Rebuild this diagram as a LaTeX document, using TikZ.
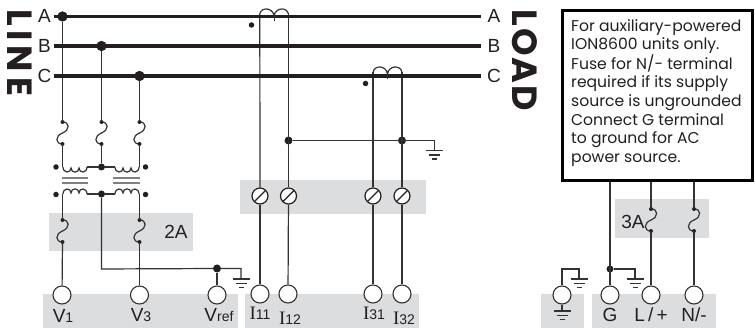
\documentclass[tikz,border=0pt]{standalone}
\usepackage{fontspec}
\setmainfont{Liberation Sans}
\newfontfamily\boxfont{Poppins}
\newfontfamily\heavyfont[LetterSpace=0]{Poppins}
\newfontfamily\iserif{Liberation Serif}
\definecolor{ink}{HTML}{231F20}
\definecolor{band}{HTML}{DCDDDE}
\definecolor{wire}{HTML}{333333}
\tikzset{
  bus/.style={draw=ink,line width=3.8pt},
  wirel/.style={draw=wire,line width=1.2pt},
  bandbox/.style={fill=band,draw=none},
  junction/.style={circle,fill=ink,draw=none,inner sep=0pt,minimum size=9pt},
  tinydot/.style={circle,fill=ink,draw=none,inner sep=0pt,minimum size=5.5pt},
  terminal/.style={circle,draw=wire,fill=white,line width=1.1pt,inner sep=0pt,minimum size=18pt},
  screwt/.style={circle,draw=ink,fill=white,line width=1.2pt,inner sep=0pt,minimum size=16pt,
    path picture={\draw[ink,line width=1.2pt] (path picture bounding box.south west)--(path picture bounding box.north east);}},
  lab/.style={inner sep=0pt,text=ink,font=\fontsize{19}{19}\selectfont},
  pics/fuse/.style={code={
    \draw[wirel] (0,0) .. controls (7.5,0) and (7.5,8) .. (0,11) .. controls (-7.5,14) and (-7.5,22) .. (0,22);
    \fill[ink] (0,0) circle (2pt) (0,22) circle (2pt);
  }},
  pics/coildown/.style={code={
    \draw[wirel] (0,0) .. controls (0,6.5) and (8,6.5) .. (8,1) .. controls (8,6.5) and (16,6.5) .. (16,1) .. controls (16,6.5) and (24,6.5) .. (24,0);
  }},
  pics/coilup/.style={code={
    \draw[wirel] (0,0) .. controls (0,-6.5) and (8,-6.5) .. (8,-1) .. controls (8,-6.5) and (16,-6.5) .. (16,-1) .. controls (16,-6.5) and (24,-6.5) .. (24,0);
  }},
  pics/hump/.style={code={
    \draw[wirel] (0,0) .. controls (1,-7) and (13,-7) .. (14.3,2) .. controls (15.5,-7) and (27.6,-7) .. (28.6,0);
    \draw[wirel] (14.3,0) -- (14.3,7);
  }},
  pics/earth/.style={code={
    \draw[wirel] (-8.5,0) -- (8.5,0);
    \draw[wirel] (-5.5,4.5) -- (5.5,4.5);
    \draw[wirel] (-2.5,8.5) -- (2.5,8.5);
  }},
}
\begin{document}
\begin{tikzpicture}[x=1pt,y=-1pt]
\useasboundingbox (0,0) rectangle (755,328);
% bands
\fill[bandbox] (49,213) rectangle (193,251);
\fill[bandbox] (43,294) rectangle (238,328);
\fill[bandbox] (245,294) rectangle (419,328);
\fill[bandbox] (240,180) rectangle (426,214);
\fill[bandbox] (615,199) rectangle (709,238);
\fill[bandbox] (541,294) rectangle (584,328);
\fill[bandbox] (592,294) rectangle (716,328);
% bus ends
\coordinate (aL) at (53.5,16.5); \coordinate (aR) at (480.5,16.5);
\coordinate (bL) at (53.5,46);   \coordinate (bR) at (480.5,46);
\coordinate (cL) at (53.5,76);   \coordinate (cR) at (480.5,76);
% junctions
\node[junction,minimum size=10pt] (ja) at (62.5,16.5) {};
\node[junction,minimum size=10pt] (jb) at (101.5,46) {};
\node[junction,minimum size=10pt] (jc) at (139.5,76) {};
\node[junction,minimum size=7pt] (ju) at (101.5,167) {};
\node[junction,minimum size=7pt] (jl) at (101.5,194) {};
\node[junction,minimum size=8pt] (jg) at (217,268.5) {};
\node[junction,minimum size=8pt] (jct1) at (288.5,140.5) {};
\node[junction,minimum size=8pt] (jct3) at (402,140.5) {};
\node[junction,minimum size=7pt] (jgg) at (610,269) {};
% terminals
\node[terminal] (v1) at (62,295) {};
\node[terminal] (v3) at (139.5,295) {};
\node[terminal] (vr) at (217,295) {};
\node[terminal] (i11) at (260,294) {};
\node[terminal] (i12) at (288,294) {};
\node[terminal] (i31) at (373,294) {};
\node[terminal] (i32) at (402,294) {};
\node[terminal] (ge) at (562,295) {};
\node[terminal] (gt) at (610,295) {};
\node[terminal] (lt) at (651,295) {};
\node[terminal] (nt) at (694,295) {};
% screw terminals
\node[screwt] (s11) at (260,196) {};
\node[screwt] (s12) at (288.5,196) {};
\node[screwt] (s31) at (373,196) {};
\node[screwt] (s32) at (402,196) {};
% fuses
\pic at (62.5,122) {fuse}; \pic at (101.5,122) {fuse}; \pic at (139.5,122) {fuse};
\pic at (62.5,220) {fuse}; \pic at (139.5,220) {fuse};
\pic at (651,209) {fuse}; \pic at (694,209) {fuse};
\coordinate (fat) at (62.5,122); \coordinate (fab) at (62.5,144);
\coordinate (fbt) at (101.5,122); \coordinate (fbb) at (101.5,144);
\coordinate (fct) at (139.5,122); \coordinate (fcb) at (139.5,144);
\coordinate (f1t) at (62.5,220); \coordinate (f1b) at (62.5,242);
\coordinate (f3t) at (139.5,220); \coordinate (f3b) at (139.5,242);
\coordinate (flt) at (651,209); \coordinate (flb) at (651,231);
\coordinate (fnt) at (694,209); \coordinate (fnb) at (694,231);
% wires behind
\begin{scope}[every path/.append style={wirel}]
\draw (ja) -- (fat); \draw (jb) -- (fbt); \draw (jc) -- (fct);
\draw (fab) -- (62.5,167); \draw (fbb) -- (ju); \draw (fcb) -- (139.5,167);
\draw (62.5,194) -- (f1t); \draw (139.5,194) -- (f3t);
\draw (f1b) -- (v1); \draw (f3b) -- (v3);
\draw (jl) -- (101.5,269) -- (jg) -- (241,268.5) -- (241,279);
\draw (jg) -- (vr);
\draw (ju) -- (87,167); \draw (ju) -- (115,167);
\draw (jl) -- (87,194); \draw (jl) -- (115,194);
\draw (259.8,14) -- (s11); \draw (288.5,14) -- (s12);
\draw (373,72) -- (s31); \draw (402,72) -- (s32);
\draw (s11) -- (i11); \draw (s12) -- (i12); \draw (s31) -- (i31); \draw (s32) -- (i32);
\draw (jct1) -- (434.5,140.5) -- (434.5,150);
\draw (610,181) -- (gt);
\draw (jgg) -- (635,269) -- (635,279);
\draw (651,181) -- (flt); \draw (694,181) -- (fnt);
\draw (flb) -- (lt); \draw (fnb) -- (nt);
\draw (ge) -- (562,269) -- (579,269) -- (579,279);
\draw (ge) -- (562,311);
\end{scope}
% buses
\draw[bus] (aL) -- (aR); \draw[bus] (bL) -- (bR); \draw[bus] (cL) -- (cR);
% redraw crossing marks
\node[junction,minimum size=10pt] at (ja) {};
\node[junction,minimum size=10pt] at (jb) {};
\node[junction,minimum size=10pt] at (jc) {};
% transformer
\pic at (63,167) {coildown}; \pic at (115,167) {coildown};
\pic at (63,194) {coilup}; \pic at (115,194) {coilup};
\draw[gray,line width=1.1pt] (62,178) -- (88,178) (62,183) -- (88,183) (113,178) -- (140,178) (113,183) -- (140,183);
\node[tinydot] (pd1) at (56,167) {}; \node[tinydot] (pd2) at (145.5,167) {};
\node[tinydot] (pd3) at (56,194.5) {}; \node[tinydot] (pd4) at (145.5,194.5) {};
% current transformers
\pic at (259.8,14) {hump}; \pic at (373.2,72) {hump};
\node[tinydot] (ctd1) at (251.5,25) {};
\node[tinydot] (ctd3) at (365.5,83.5) {};
% grounds
\pic at (241,279) {earth}; \pic at (434.5,150.5) {earth};
\pic at (635,279) {earth}; \pic at (579,279) {earth}; \pic at (562,311) {earth};
% labels
\node[lab] at (44.5,16) {A}; \node[lab] at (44.5,45.5) {B}; \node[lab] at (44.5,75.5) {C};
\node[lab] at (494,16) {A}; \node[lab] at (494,45.5) {B}; \node[lab] at (494,75.5) {C};
\node[lab] at (176,232) {2A};
\node[lab] at (633,222) {3A};
\newcommand{\subs}[1]{{\fontsize{14}{14}\selectfont #1}}
\node[lab] at (63,315.5) {V\subs{1}};
\node[lab] at (141,315.5) {V\subs{3}};
\node[lab] at (219,315.5) {V\subs{ref}};
\node[lab] at (260,313.5) {{\iserif I}\subs{11}};
\node[lab] at (290,318.5) {{\iserif I}\subs{12}};
\node[lab] at (374,313.5) {{\iserif I}\subs{31}};
\node[lab] at (404,318.5) {{\iserif I}\subs{32}};
\node[lab] at (610,315) {G};
\node[lab] at (651,315) {L\,/\,+};
\node[lab] at (694,315) {N/-};
% side titles
\node[rotate=-90,inner sep=0pt,anchor=center,text=ink,font=\heavyfont\bfseries\fontsize{35}{35}\selectfont] (line) at (20,53) {L\hspace{4pt}I\hspace{5pt}N\hspace{5pt}E};
\node[rotate=-90,inner sep=0pt,anchor=center,text=ink,font=\heavyfont\bfseries\fontsize{35}{35}\selectfont] (load) at (525,60) {L\hspace{3pt}O\hspace{1pt}A\hspace{2pt}D};
% note
\node[draw=black,line width=3pt,fill=white,minimum width=190.5pt,minimum height=169.5pt,inner sep=0pt] (note) at (657.5,95.5) {};
\node[anchor=north west,inner sep=0pt,align=left,text=ink,font=\boxfont\fontsize{15.6}{18.6}\selectfont] at (571,19)
 {For auxiliary-powered\\ION8600 units only.\\Fuse for N/- terminal\\required if its supply\\source is ungrounded\\Connect G terminal\\to ground for AC\\power source.};
\end{tikzpicture}
\end{document}
